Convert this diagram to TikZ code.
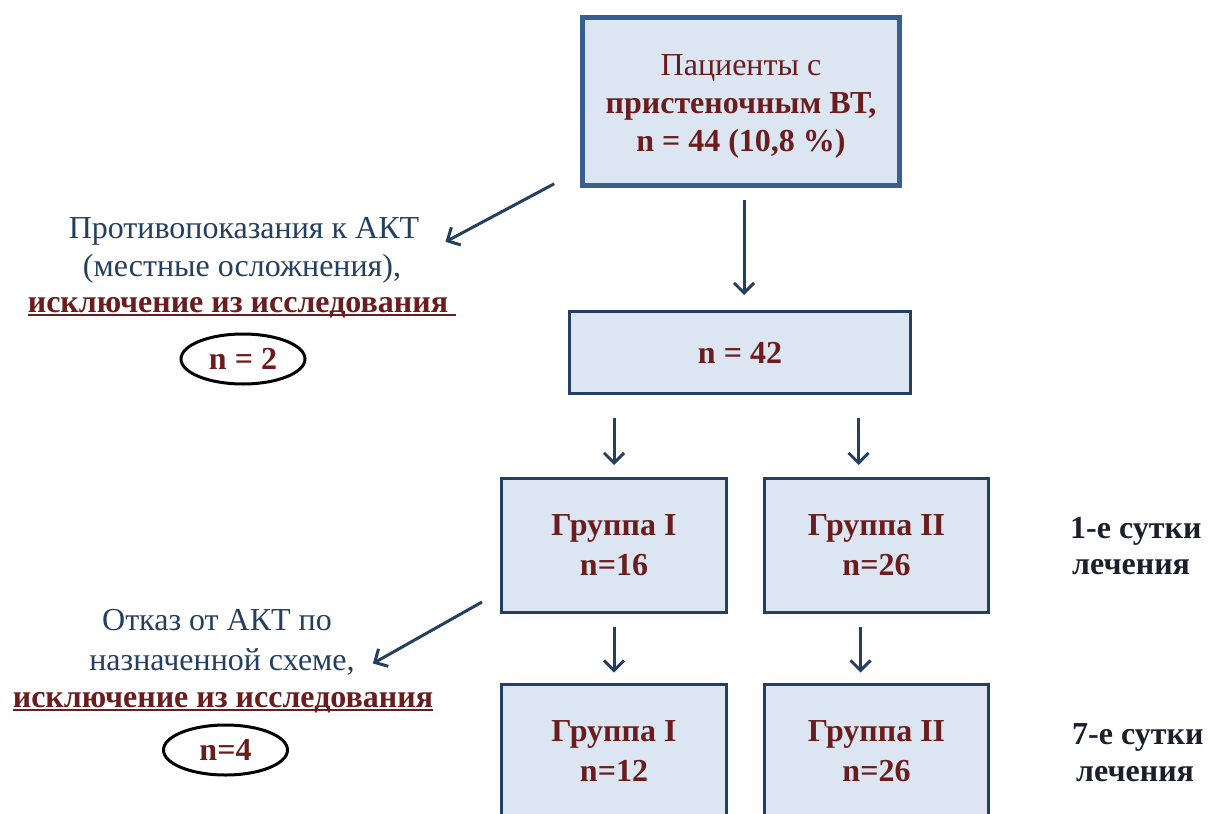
\documentclass[tikz,border=0pt]{standalone}
\usepackage{fontspec}
\setmainfont{Liberation Serif}
\usetikzlibrary{positioning,arrows.meta,shapes.geometric}

\definecolor{boxfill}{HTML}{DCE6F2}
\definecolor{topline}{HTML}{3A5F8F}
\definecolor{boxline}{HTML}{243F60}
\definecolor{darkred}{HTML}{6B1D1D}
\definecolor{navy}{HTML}{243F60}
\definecolor{inkblack}{HTML}{1A1F2B}

\tikzset{
  box/.style={draw=boxline, line width=3pt, fill=boxfill, text=darkred, align=center,
    inner sep=0pt, font=\bfseries\fontsize{32}{38}\selectfont},
  grpbox/.style={box, minimum height=134pt, font=\bfseries\fontsize{32}{40}\selectfont},
  arr/.style={draw=navy, line width=3pt, -{Straight Barb[length=10pt,width=20pt]}},
  note/.style={text=navy, inner sep=0pt, anchor=base, font=\fontsize{32}{38}\selectfont},
  excl/.style={text=darkred, inner sep=0pt, anchor=base, font=\bfseries\fontsize{32}{38}\selectfont},
  oval/.style={draw=black, ellipse, line width=3pt, minimum width=124pt, minimum height=50pt,
    inner sep=0pt, text=darkred, font=\bfseries\fontsize{32}{38}\selectfont},
  day/.style={text=inkblack, inner sep=0pt, anchor=base west, font=\bfseries\fontsize{32}{38}\selectfont},
}

\begin{document}
\begin{tikzpicture}[x=1pt,y=-1pt]
  \clip (0,0) rectangle (1211,814);
  \fill[white] (0,0) rectangle (1211,814);

  % main column
  \node[box, draw=topline, line width=4.6pt, minimum width=317pt, minimum height=168pt] (pat) at (741,101.5)
    {\rule{0pt}{31pt}{\mdseries Пациенты с}\\ пристеночным ВТ,\\ n = 44 (10,8 \%)};
  \node[box, minimum width=341pt, minimum height=82pt] (all) at (740,352.5) {n = 42};

  \node[grpbox, minimum width=225pt] (gA1) at (614,545.5) {Группа I\\ n=16};
  \node[grpbox, minimum width=224pt] (gB1) at (876.5,545.5) {Группа II\\ n=26};
  \node[grpbox, minimum width=225pt] (gA7) at (614,751) {Группа I\\ n=12};
  \node[grpbox, minimum width=224pt] (gB7) at (876.5,751) {Группа II\\ n=26};

  \coordinate (inB1) at ([xshift=-18pt]gB1.north);
  \coordinate (inB7) at ([xshift=-16pt]gB7.north);

  \draw[arr, shorten <=12pt, shorten >=15pt] ([xshift=3pt]pat.south) -- ([xshift=4pt]all.north);
  \draw[arr, shorten <=23pt, shorten >=12pt] (all.south -| gA1.north) -- (gA1.north);
  \draw[arr, shorten <=23pt, shorten >=12pt] (all.south -| inB1) -- (inB1);
  \draw[arr, shorten <=13pt, shorten >=10pt] (gA1.south) -- (gA7.north);
  \draw[arr, shorten <=13pt, shorten >=10pt] (gB1.south -| inB7) -- (inB7);

  % days
  \node[day] (d1a) at (1070,538) {1-е сутки};
  \node[day] (d1b) at (1072,574) {лечения};
  \node[day] (d7a) at (1072,744) {7-е сутки};
  \node[day] (d7b) at (1076,781) {лечения};

  % first exclusion
  \node[note] (contra1) at (244,238) {Противопоказания к АКТ};
  \node[note] (contra2) at (242,276) {(местные осложнения),};
  \node[excl] (out1) at (238,312) {исключение из исследования};
  \draw[darkred, line width=2.6pt] ([yshift=-3pt]out1.base west) -- ([yshift=-3pt,xshift=8pt]out1.base east);
  \node[oval] (n2) at (243,359) {n = 2};
  \draw[arr] ([shift={(-26pt,4pt)}]pat.south west) -- ([shift={(26pt,-11pt)}]contra1.east);

  % second exclusion
  \node[note] (refuse1) at (217,630) {Отказ от АКТ по};
  \node[note] (refuse2) at (222,670) {назначенной схеме,};
  \node[excl] (out2) at (223,707) {исключение из исследования};
  \draw[darkred, line width=2.6pt] ([yshift=-3pt]out2.base west) -- ([yshift=-3pt]out2.base east);
  \node[oval] (n4) at (225.5,750) {n=4};
  \draw[arr] ([shift={(-18pt,12pt)}]gA1.south west) -- ([shift={(18pt,-2pt)}]refuse2.east);
\end{tikzpicture}
\end{document}
